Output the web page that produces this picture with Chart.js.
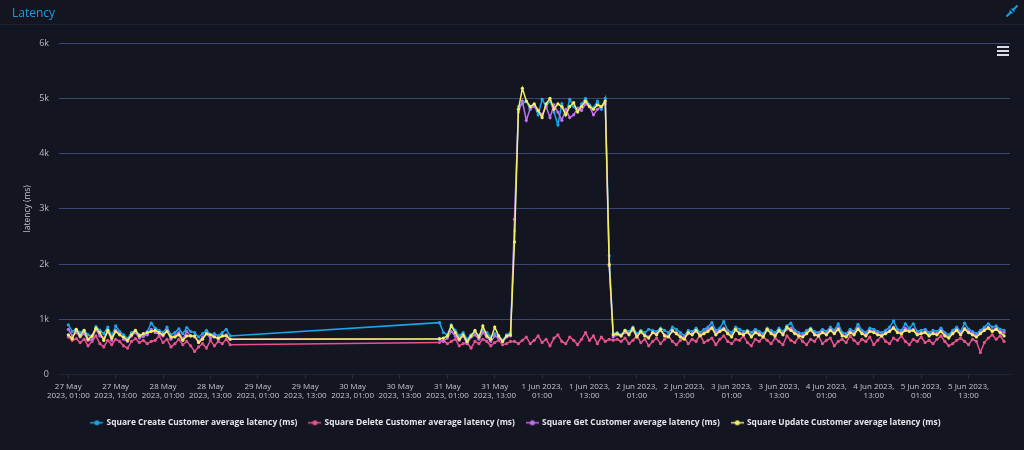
<!DOCTYPE html>
<html>
<head>
<meta charset="utf-8">
<title>Latency</title>
<script src="https://cdn.jsdelivr.net/npm/chart.js@4.4.0/dist/chart.umd.min.js"></script>
<style>
  body { margin: 0; background: #131520; width: 1024px; height: 450px; overflow: hidden; font-family: "Open Sans", sans-serif; }
  #header { position: absolute; left: 0; top: 0; width: 1024px; height: 24px; border-bottom: 1px solid #1d2030; z-index: 2; }
  #title { position: absolute; left: 12px; top: 4px; color: #1c9ddf; font-size: 12px; font-weight: 500; }
  #expand { position: absolute; left: 1006px; top: 5px; }
  #menu { position: absolute; left: 997px; top: 46px; width: 12px; z-index: 2; }
  #menu div { height: 2px; background: #dcdce4; margin-bottom: 2px; }
  #wrap { position: absolute; left: 0; top: 0; width: 1024px; height: 450px; }
</style>
</head>
<body>
<div id="header">
  <div id="title">Latency</div>
  <svg id="expand" width="12" height="12" viewBox="0 0 12 12">
    <path d="M11.5 0.5 L7.5 4.5 M0.5 11.5 L4.5 7.5" stroke="#1c9ddf" stroke-width="2"/>
    <path d="M4.5 3.5 L8.5 3.5 L8.5 7.5 Z M3.5 4.5 L3.5 8.5 L7.5 8.5 Z" fill="#1c9ddf"/>
  </svg>
</div>
<div id="menu"><div></div><div></div><div></div></div>
<div id="wrap"><canvas id="latency" width="1024" height="450"></canvas></div>

<script>
// hours counted from 27 May 2023 00:00, one point per hour
const runStartHour = [1, 95];

const seriesNames = [
  'Square Create Customer average latency (ms)',
  'Square Delete Customer average latency (ms)',
  'Square Get Customer average latency (ms)',
  'Square Update Customer average latency (ms)'
];
const seriesColors = ['#1ba6ea', '#e8538b', '#c46ef2', '#f3f163'];

// 27 May 01:00 -> 28 May 18:00
const createRun1 = [900, 780, 820, 760, 800, 720, 680, 870, 800, 740,
  860, 700, 880, 780, 720, 650, 760, 800, 720, 690,
  780, 930, 840, 800, 760, 860, 720, 760, 830, 740,
  850, 780, 760, 680, 740, 800, 720, 740, 700, 760,
  820, 700];
const deleteRun1 = [680, 620, 650, 580, 640, 520, 600, 700, 560, 500,
  620, 540, 640, 600, 520, 480, 600, 650, 580, 620,
  560, 600, 620, 700, 580, 640, 500, 560, 640, 540,
  600, 520, 420, 500, 560, 480, 620, 520, 600, 560,
  640, 540];
const getRun1 = [820, 700, 760, 680, 740, 620, 640, 820, 700, 660,
  780, 620, 800, 740, 640, 600, 700, 760, 660, 700,
  720, 820, 760, 740, 700, 800, 640, 700, 760, 640,
  780, 700, 680, 600, 680, 740, 660, 700, 640, 700,
  720, 640];
const updateRun1 = [720, 650, 820, 700, 800, 640, 700, 840, 760, 620,
  800, 660, 780, 720, 680, 620, 720, 800, 700, 740,
  760, 780, 800, 760, 720, 780, 680, 680, 720, 620,
  700, 700, 700, 580, 640, 740, 720, 680, 660, 700,
  700, 640];

// 30 May 23:00 -> 5 Jun 22:00
const createRun2 = [940, 760, 720, 900, 800, 700, 760, 640, 720, 760,
  700, 800, 760, 680, 740, 700, 620, 720, 760,
  2600, 4850, 4900, 4950, 4800, 4880, 4700, 4980, 4850, 4960, 4750,
  4520, 4900, 4700, 4980, 4850, 4760, 4900, 5000, 4880, 4820,
  4950, 4800, 5000, 2150,
  740, 760, 720, 800, 780, 860, 740, 800, 760, 820,
  800, 780, 840, 800, 760, 860, 820, 760, 700, 800,
  780, 840, 760, 820, 860, 940, 800, 840, 960, 800,
  760, 860, 820, 780, 800, 760, 820, 780, 740, 840,
  800, 760, 840, 780, 880, 930, 800, 760, 740, 800,
  840, 780, 760, 820, 780, 860, 800, 920, 760, 740,
  820, 780, 910, 800, 760, 840, 820, 780, 760, 800,
  860, 970, 820, 800, 920, 840, 920, 780, 800, 820,
  760, 800, 780, 840, 760, 720, 800, 860, 780, 930,
  820, 780, 740, 800, 860, 920, 860, 880, 820, 800];
const deleteRun2 = [580, 620, 560, 600, 640, 520, 560, 580, 480, 600,
  560, 640, 600, 520, 580, 620, 540, 560, 600,
  600, 560, 620, 680, 560, 620, 700, 580, 640, 520,
  660, 720, 600, 560, 680, 620, 540, 640, 760, 620,
  700, 560, 680, 600, 640,
  620, 640, 600, 660, 560, 620, 700, 580, 640, 520,
  600, 660, 560, 640, 700, 600, 540, 620, 680, 560,
  640, 600, 720, 580, 620, 660, 540, 640, 700, 600,
  560, 640, 620, 700, 580, 520, 640, 600, 680, 620,
  560, 660, 600, 540, 700, 620, 580, 680, 600, 540,
  640, 600, 700, 560, 620, 660, 520, 600, 640, 580,
  700, 620, 560, 640, 600, 680, 540, 620, 700, 600,
  560, 660, 620, 700, 600, 540, 640, 600, 680, 580,
  620, 560, 640, 700, 600, 520, 560, 620, 660, 600,
  540, 640, 600, 400, 580, 660, 720, 640, 700, 600];
const getRun2 = [640, 600, 660, 780, 700, 620, 700, 560, 680, 720,
  640, 760, 680, 600, 700, 660, 600, 680, 700,
  2810, 4750, 4950, 4600, 4820, 4850, 4780, 4700, 4850, 4650, 4880,
  4750, 4600, 4800, 4650, 4700, 4820, 4780, 4900, 4850, 4700,
  4800, 4850, 4900, 1970,
  680, 720, 700, 760, 740, 800, 700, 760, 720, 680,
  760, 740, 800, 720, 700, 780, 760, 700, 660, 740,
  740, 780, 720, 760, 820, 860, 760, 800, 840, 760,
  700, 800, 760, 740, 760, 700, 780, 740, 700, 800,
  760, 720, 780, 740, 820, 840, 760, 720, 700, 760,
  800, 740, 720, 780, 740, 820, 760, 840, 720, 700,
  780, 740, 840, 760, 720, 800, 780, 740, 720, 760,
  800, 860, 780, 760, 840, 800, 820, 740, 760, 780,
  720, 760, 740, 800, 720, 680, 760, 820, 740, 840,
  780, 740, 700, 760, 820, 860, 800, 840, 780, 760];
const updateRun2 = [650, 660, 700, 880, 760, 640, 720, 600, 700, 800,
  680, 880, 700, 640, 860, 700, 600, 700, 720,
  2400, 4800, 5180, 4950, 4850, 4900, 4780, 4650, 4900, 5000, 4800,
  4900, 4850, 4700, 4850, 4920, 4750, 4850, 4950, 4850, 4800,
  4880, 4850, 4950, 1990,
  720, 740, 700, 800, 720, 840, 680, 780, 700, 660,
  760, 720, 820, 700, 680, 800, 740, 680, 640, 760,
  720, 800, 700, 740, 780, 840, 720, 780, 820, 740,
  680, 820, 740, 720, 780, 680, 760, 720, 680, 820,
  740, 700, 800, 720, 860, 800, 740, 700, 680, 740,
  820, 720, 700, 760, 720, 800, 740, 820, 700, 680,
  760, 720, 820, 740, 700, 780, 760, 720, 700, 740,
  780, 840, 760, 740, 800, 780, 800, 720, 740, 760,
  700, 740, 720, 780, 700, 660, 740, 800, 720, 820,
  760, 720, 680, 740, 800, 840, 780, 820, 760, 700];

const tickHours = [1, 13, 25, 37, 49, 61, 73, 85, 97, 109, 121, 133, 145, 157, 169, 181, 193, 205, 217, 229];
const tickLabels = [
  ['27 May', '2023, 01:00'], ['27 May', '2023, 13:00'],
  ['28 May', '2023, 01:00'], ['28 May', '2023, 13:00'],
  ['29 May', '2023, 01:00'], ['29 May', '2023, 13:00'],
  ['30 May', '2023, 01:00'], ['30 May', '2023, 13:00'],
  ['31 May', '2023, 01:00'], ['31 May', '2023, 13:00'],
  ['1 Jun 2023,', '01:00'], ['1 Jun 2023,', '13:00'],
  ['2 Jun 2023,', '01:00'], ['2 Jun 2023,', '13:00'],
  ['3 Jun 2023,', '01:00'], ['3 Jun 2023,', '13:00'],
  ['4 Jun 2023,', '01:00'], ['4 Jun 2023,', '13:00'],
  ['5 Jun 2023,', '01:00'], ['5 Jun 2023,', '13:00']
];

// turn the two hourly runs into {x, y} points
function toPoints(run1, run2) {
  const pts = [];
  run1.forEach((v, i) => pts.push({ x: runStartHour[0] + i, y: v }));
  run2.forEach((v, i) => pts.push({ x: runStartHour[1] + i, y: v }));
  return pts;
}

// little line+dot symbol for the legend
function legendMarker(color) {
  const c = document.createElement('canvas');
  c.width = 13; c.height = 7;
  const g = c.getContext('2d');
  g.strokeStyle = color; g.lineWidth = 1.5;
  g.beginPath(); g.moveTo(0, 3.5); g.lineTo(13, 3.5); g.stroke();
  g.fillStyle = color;
  g.beginPath(); g.arc(6.5, 3.5, 2.5, 0, Math.PI * 2); g.fill();
  return c;
}

const runs = [[createRun1, createRun2], [deleteRun1, deleteRun2], [getRun1, getRun2], [updateRun1, updateRun2]];
const markers = seriesColors.map(legendMarker);

const datasets = runs.map((r, i) => ({
  label: seriesNames[i],
  data: toPoints(r[0], r[1]),
  borderColor: seriesColors[i],
  backgroundColor: seriesColors[i],
  borderWidth: 1.5,
  pointRadius: 1.6,
  pointBorderWidth: 0,
  pointHoverRadius: 3,
  tension: 0,
  order: 4 - i   // later series painted on top, like the original
}));

const fontFamily = '"Open Sans", sans-serif';

// legend sits a bit right of the plot centre in the original
const nudgeLegend = {
  id: 'nudgeLegend',
  afterLayout: function (chart) {
    chart.legend.left += 11;
    chart.legend.right += 11;
  }
};

var ctx = document.getElementById('latency').getContext('2d');
var myChart = new Chart(ctx, {
  type: 'line',
  data: { datasets: datasets },
  plugins: [nudgeLegend],
  options: {
    responsive: false,
    animation: false,
    devicePixelRatio: 1,
    layout: { padding: { top: 43, right: 14, bottom: 13, left: 0 } },
    scales: {
      x: {
        type: 'linear',
        min: -1.355,
        max: 239.5,
        afterBuildTicks: function (scale) {
          scale.ticks = tickHours.map(h => ({ value: h }));
        },
        afterFit: function (scale) {
          scale.height = 32;
          scale.paddingLeft = 0;
          scale.paddingRight = 0;
        },
        ticks: {
          autoSkip: false,
          maxRotation: 0,
          padding: 3,
          color: '#c4c4cc',
          font: { family: fontFamily, size: 8, lineHeight: 1.2 },
          callback: function (value) {
            return tickLabels[tickHours.indexOf(value)];
          }
        },
        grid: { drawOnChartArea: false, color: '#2a2d3e', tickLength: 4 },
        border: { color: '#222536' }
      },
      y: {
        min: 0,
        max: 6000,
        afterFit: function (scale) {
          scale.width = 59;
          scale.paddingTop = 0;
          scale.paddingBottom = 0;
        },
        ticks: {
          stepSize: 1000,
          padding: 10,
          color: '#b8b8c0',
          font: { family: fontFamily, size: 9 },
          callback: function (v) { return v === 0 ? '0' : (v / 1000) + 'k'; }
        },
        title: {
          display: true,
          text: 'latency (ms)',
          color: '#c4c4cc',
          font: { family: fontFamily, size: 8.5 },
          padding: { top: 22, bottom: 0 }
        },
        grid: {
          drawTicks: false,
          color: function (c) { return c.tick && c.tick.value === 0 ? 'rgba(0,0,0,0)' : '#3a4775'; }
        },
        border: { display: false }
      }
    },
    plugins: {
      legend: {
        position: 'bottom',
        labels: {
          usePointStyle: true,
          pointStyleWidth: 11,
          padding: 12,
          color: '#e6e6ea',
          font: { family: fontFamily, size: 8.4, weight: 'bold' },
          generateLabels: function (chart) {
            const items = Chart.defaults.plugins.legend.labels.generateLabels(chart);
            items.forEach(it => { it.pointStyle = markers[it.datasetIndex]; });
            return items.sort((a, b) => a.datasetIndex - b.datasetIndex);
          }
        }
      },
      tooltip: { enabled: false }
    }
  }
});
</script>
</body>
</html>
